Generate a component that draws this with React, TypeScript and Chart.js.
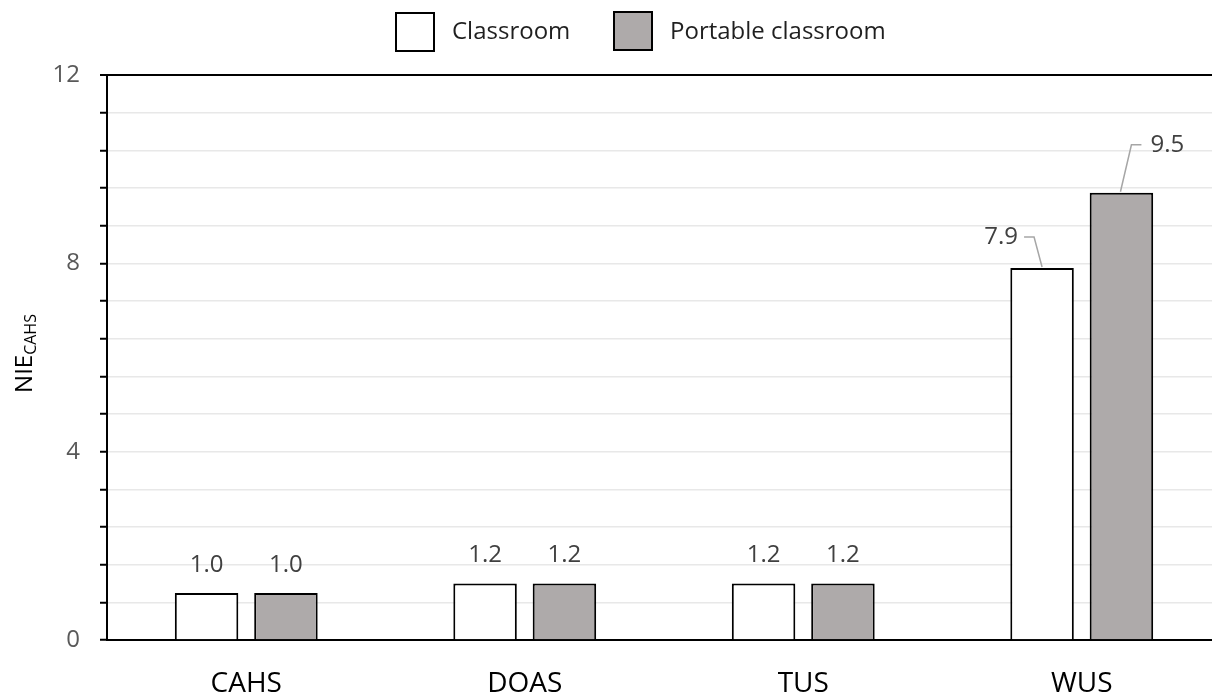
import React, { useEffect, useRef } from "react";
import { Chart, registerables } from "chart.js";

Chart.register(...registerables);

// ---- data ----
const categories = ["CAHS", "DOAS", "TUS", "WUS"];
const classroomValues = [1.0, 1.2, 1.2, 7.9];
const portableValues = [1.0, 1.2, 1.2, 9.5];
const seriesNames = ["Classroom", "Portable classroom"];
const yTickLabels = [0, 4, 8, 12];
const yMin = 0;
const yMax = 12;
const yStep = 0.8;
const yTitleMain = "NIE";
const yTitleSub = "CAHS";

const FONT = "'Open Sans', sans-serif";
const GRAY = "#AEAAAA";

// label placement tweaks (layout only)
const labelPlacement: Record<string, { dx: number; dy: number; leader?: number[][] }> = {
  "0-3": { dx: -41, dy: -31, leader: [[-18, -31], [-8, -31], [0, -1]] },
  "1-3": { dx: 46, dy: -48, leader: [[20, -48], [10, -48], [-1, -1]] },
};

const dataLabelsPlugin = {
  id: "dataLabels",
  afterDatasetsDraw(chart: any) {
    const ctx = chart.ctx;
    ctx.save();
    ctx.font = `24px ${FONT}`;
    ctx.fillStyle = "#404040";
    ctx.textAlign = "center";
    ctx.textBaseline = "middle";
    chart.data.datasets.forEach((ds: any, di: number) => {
      const meta = chart.getDatasetMeta(di);
      meta.data.forEach((el: any, i: number) => {
        const v = ds.data[i];
        const p = labelPlacement[`${di}-${i}`];
        const dx = p ? p.dx : 0;
        const dy = p ? p.dy : -28;
        ctx.fillText(Number(v).toFixed(1), el.x + dx, el.y + dy);
        if (p && p.leader) {
          ctx.beginPath();
          ctx.strokeStyle = "#A6A6A6";
          ctx.lineWidth = 1.5;
          p.leader.forEach((pt, k) => {
            if (k === 0) ctx.moveTo(el.x + pt[0], el.y + pt[1]);
            else ctx.lineTo(el.x + pt[0], el.y + pt[1]);
          });
          ctx.stroke();
        }
      });
    });
    ctx.restore();
  },
};

const legendPlugin = {
  id: "customLegend",
  afterDraw(chart: any) {
    const ctx = chart.ctx;
    ctx.save();
    const items = [
      { boxX: 396, boxY: 13, textX: 452 },
      { boxX: 614, boxY: 12, textX: 670 },
    ];
    chart.data.datasets.forEach((ds: any, i: number) => {
      const it = items[i];
      ctx.fillStyle = ds.backgroundColor;
      ctx.fillRect(it.boxX, it.boxY, 38, 38);
      ctx.strokeStyle = "#000";
      ctx.lineWidth = 2;
      ctx.strokeRect(it.boxX, it.boxY, 38, 38);
      ctx.fillStyle = "#1F1F1F";
      ctx.font = `24px ${FONT}`;
      ctx.textAlign = "left";
      ctx.textBaseline = "middle";
      ctx.fillText(ds.label, it.textX, 32);
    });
    ctx.restore();
  },
};

const yTitlePlugin = {
  id: "yTitle",
  afterDraw(chart: any) {
    const ctx = chart.ctx;
    const area = chart.chartArea;
    ctx.save();
    const mainFont = `24px ${FONT}`;
    const subFont = `16px ${FONT}`;
    ctx.font = mainFont;
    const w1 = ctx.measureText(yTitleMain).width;
    ctx.font = subFont;
    const w2 = ctx.measureText(yTitleSub).width;
    const total = w1 + w2;
    const cy = (area.top + area.bottom) / 2 - 4;
    ctx.translate(32, cy);
    ctx.rotate(-Math.PI / 2);
    ctx.fillStyle = "#000";
    ctx.textAlign = "left";
    ctx.textBaseline = "alphabetic";
    ctx.font = mainFont;
    ctx.fillText(yTitleMain, -total / 2, 0);
    ctx.font = subFont;
    ctx.fillText(yTitleSub, -total / 2 + w1, 4);
    ctx.restore();
  },
};

function isMajor(v: number) {
  const r = Math.round(v * 10) / 10;
  return yTickLabels.includes(r);
}

export default function App() {
  const canvasRef = useRef<HTMLCanvasElement | null>(null);

  useEffect(() => {
    if (!canvasRef.current) return;
    const chart = new Chart(canvasRef.current, {
      type: "bar",
      data: {
        labels: categories,
        datasets: [
          {
            label: seriesNames[0],
            data: classroomValues,
            backgroundColor: "#FFFFFF",
            borderColor: "#000000",
            borderWidth: 2,
            categoryPercentage: 0.57,
            barPercentage: 0.8,
          },
          {
            label: seriesNames[1],
            data: portableValues,
            backgroundColor: GRAY,
            borderColor: "#000000",
            borderWidth: 2,
            categoryPercentage: 0.57,
            barPercentage: 0.8,
          },
        ],
      },
      options: {
        responsive: false,
        animation: false,
        devicePixelRatio: 1,
        layout: { padding: { top: 75, left: 0, right: 0, bottom: 0 } },
        plugins: {
          legend: { display: false },
          tooltip: { enabled: false },
          title: { display: false },
        },
        scales: {
          x: {
            type: "category",
            offset: true,
            grid: { display: false, drawTicks: false },
            border: { display: true, color: "#000", width: 2 },
            ticks: {
              color: "#000",
              font: { family: FONT, size: 28 },
              padding: 27,
              maxRotation: 0,
            },
            afterFit: (scale: any) => {
              scale.height = 56;
            },
          },
          y: {
            type: "linear",
            min: yMin,
            max: yMax,
            grid: {
              color: (c: any) =>
                c.tick && Math.abs(c.tick.value - yMax) < 1e-6 ? "#000" : "#E8E8E8",
              lineWidth: (c: any) =>
                c.tick && Math.abs(c.tick.value - yMax) < 1e-6 ? 2 : 1.5,
              tickColor: "#000",
              tickWidth: 2,
              tickLength: 7,
              drawTicks: true,
            },
            border: { display: true, color: "#000", width: 2 },
            ticks: {
              stepSize: yStep,
              autoSkip: false,
              color: "#595959",
              font: { family: FONT, size: 24 },
              padding: 20,
              callback: (v: any) => (isMajor(Number(v)) ? String(Math.round(Number(v))) : ""),
            },
            afterFit: (scale: any) => {
              scale.width = 107;
            },
          },
        },
      },
      plugins: [dataLabelsPlugin, legendPlugin, yTitlePlugin],
    } as any);
    return () => chart.destroy();
  }, []);

  return (
    <div
      style={{
        position: "fixed",
        left: 0,
        top: 0,
        width: 1212,
        height: 696,
        overflow: "hidden",
        background: "#fff",
      }}
    >
      <canvas
        ref={canvasRef}
        width={1221}
        height={696}
        style={{ width: 1221, height: 696, display: "block" }}
      />
    </div>
  );
}
